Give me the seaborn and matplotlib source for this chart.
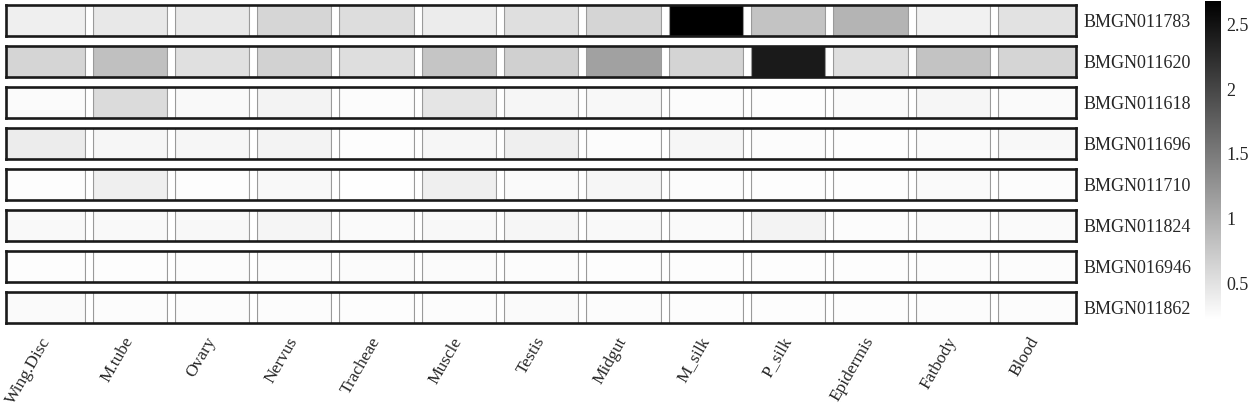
import seaborn as sns
import matplotlib.pyplot as plt
import pandas as pd

sns.set_style("white")
plt.rcParams['font.family'] = ['Liberation Serif', 'DejaVu Serif']

tissues = ["Wing.Disc", "M.tube", "Ovary", "Nervus", "Tracheae", "Muscle", "Testis",
           "Midgut", "M_silk", "P_silk", "Epidermis", "Fatbody", "Blood"]
genes = ["BMGN011783", "BMGN011620", "BMGN011618", "BMGN011696",
         "BMGN011710", "BMGN011824", "BMGN016946", "BMGN011862"]

# expression values
BMGN011783 = [0.38, 0.45, 0.45, 0.62, 0.55, 0.41, 0.53, 0.63, 2.68, 0.80, 0.95, 0.36, 0.50]
BMGN011620 = [0.63, 0.83, 0.52, 0.66, 0.54, 0.78, 0.68, 1.13, 0.64, 2.43, 0.53, 0.80, 0.63]
BMGN011618 = [0.26, 0.57, 0.28, 0.34, 0.25, 0.47, 0.31, 0.29, 0.25, 0.24, 0.27, 0.31, 0.27]
BMGN011696 = [0.41, 0.31, 0.31, 0.34, 0.24, 0.31, 0.38, 0.25, 0.31, 0.25, 0.24, 0.27, 0.29]
BMGN011710 = [0.24, 0.38, 0.24, 0.29, 0.23, 0.38, 0.27, 0.31, 0.25, 0.24, 0.24, 0.27, 0.25]
BMGN011824 = [0.28, 0.28, 0.29, 0.32, 0.27, 0.29, 0.31, 0.28, 0.27, 0.34, 0.25, 0.27, 0.27]
BMGN016946 = [0.24, 0.24, 0.25, 0.26, 0.26, 0.26, 0.25, 0.24, 0.24, 0.24, 0.24, 0.25, 0.25]
BMGN011862 = [0.27, 0.25, 0.25, 0.25, 0.24, 0.25, 0.27, 0.25, 0.24, 0.24, 0.24, 0.25, 0.25]

df = pd.DataFrame([BMGN011783, BMGN011620, BMGN011618, BMGN011696,
                   BMGN011710, BMGN011824, BMGN016946, BMGN011862],
                  index=genes, columns=tissues)

vmin, vmax = 0.22, 2.68

fig = plt.figure(figsize=(12.5, 4.05), dpi=100)
gs = fig.add_gridspec(len(genes), 1, left=0.005, right=0.861, top=0.988, bottom=0.202, hspace=0.32)
cax = fig.add_axes([0.964, 0.21, 0.0128, 0.788])

row_axes = []
for i, gene in enumerate(genes):
    ax = fig.add_subplot(gs[i])
    row_axes.append(ax)
    last = i == len(genes) - 1
    sns.heatmap(df.loc[[gene]], ax=ax, cmap="gray_r", vmin=vmin, vmax=vmax,
                cbar=(i == 0), cbar_ax=cax if i == 0 else None,
                xticklabels=tissues if last else False, yticklabels=[gene])
    # white gaps with grey edges between cells
    for j in range(1, len(tissues)):
        ax.axvline(j, color="#9a9a9a", lw=6.6)
        ax.axvline(j, color="white", lw=5.0)
    for s in ax.spines.values():
        s.set_visible(True)
        s.set_color("#1a1a1a")
        s.set_linewidth(1.9)
    ax.yaxis.tick_right()
    ax.tick_params(axis="y", length=0, pad=5)
    ax.set_yticklabels([gene], rotation=0, fontsize=13)
    ax.set_xlabel("")
    ax.set_ylabel("")
    if last:
        ax.tick_params(axis="x", length=0, pad=11)
        ax.set_xticklabels(tissues, rotation=60, ha="right", va="center",
                           rotation_mode="anchor", fontsize=12.5)

cbar = row_axes[0].collections[0].colorbar
cbar.set_ticks([0.5, 1, 1.5, 2, 2.5])
cbar.set_ticklabels(["0.5", "1", "1.5", "2", "2.5"])
cbar.outline.set_visible(False)
cbar.ax.tick_params(length=0, labelsize=13, pad=4)

plt.savefig("out.png", dpi=100)
